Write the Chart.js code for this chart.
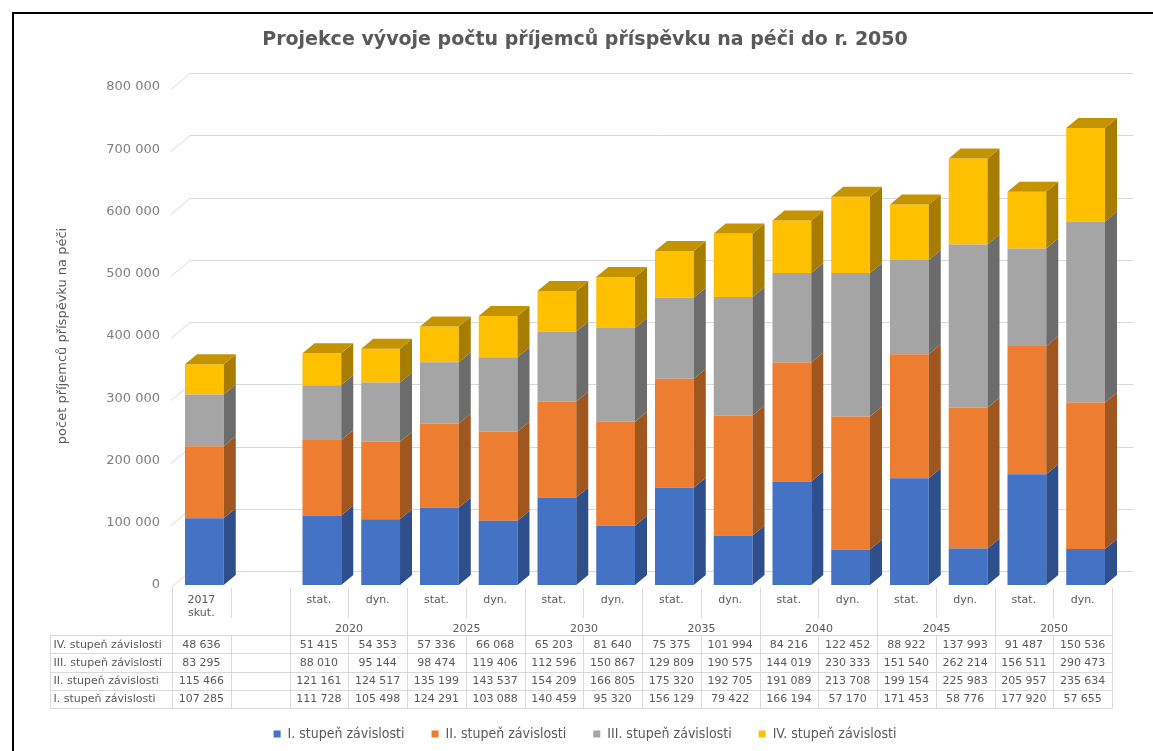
<!DOCTYPE html>
<html>
<head>
<meta charset="utf-8">
<script src="https://cdn.jsdelivr.net/npm/chart.js@4.4.1/dist/chart.umd.min.js"></script>
<style>
  body { margin: 0; background: #fff; }
</style>
</head>
<body>
<canvas id="care" width="1153" height="751"></canvas>
<script>
// categories on the x axis (blank slot after 2017)
var xLabels = [["2017", "skut."], "", "stat.", "dyn.", "stat.", "dyn.", "stat.", "dyn.", "stat.", "dyn.",
               "stat.", "dyn.", "stat.", "dyn.", "stat.", "dyn."];
var years = ["2020", "2025", "2030", "2035", "2040", "2045", "2050"];

var seriesNames = ["I. stupeň závislosti", "II. stupeň závislosti", "III. stupeň závislosti", "IV. stupeň závislosti"];

var st1 = [107285, null, 111728, 105498, 124291, 103088, 140459, 95320, 156129, 79422, 166194, 57170, 171453, 58776, 177920, 57655];
var st2 = [115466, null, 121161, 124517, 135199, 143537, 154209, 166805, 175320, 192705, 191089, 213708, 199154, 225983, 205957, 235634];
var st3 = [83295, null, 88010, 95144, 98474, 119406, 112596, 150867, 129809, 190575, 144019, 230333, 151540, 262214, 156511, 290473];
var st4 = [48636, null, 51415, 54353, 57336, 66068, 65203, 81640, 75375, 101994, 84216, 122452, 88922, 137993, 91487, 150536];

var frontColors = ["#4472C4", "#ED7D31", "#A5A5A5", "#FFC000"];
var sideColors = ["#2E4F8C", "#A0561F", "#6C6C6C", "#A67D00"];
var topColors = ["#3A62A8", "#C86A28", "#8A8A8A", "#C39300"];

var fontFam = "'DejaVu Sans', Verdana, sans-serif";
var gridColor = "#d9d9d9";
var textColor = "#595959";

function fmt(v) {
    if (v == null) return "";
    return String(v).replace(/\B(?=(\d{3})+(?!\d))/g, " ");
}

function poly(ctx, pts) {
    ctx.beginPath();
    ctx.moveTo(pts[0][0], pts[0][1]);
    for (var i = 1; i < pts.length; i++) ctx.lineTo(pts[i][0], pts[i][1]);
    ctx.closePath();
    ctx.fill();
}

function line(ctx, x1, y1, x2, y2) {
    ctx.beginPath();
    ctx.moveTo(x1, y1);
    ctx.lineTo(x2, y2);
    ctx.stroke();
}

var depth = { dx: 12, dy: -10 };
var wall = { dx: 19, dy: -16 };

var fake3d = {
    id: "fake3d",
    beforeDatasetsDraw: function (chart) {
        var ctx = chart.ctx, a = chart.chartArea, ys = chart.scales.y;
        ctx.save();
        ctx.strokeStyle = gridColor;
        ctx.lineWidth = 1;
        ys.ticks.forEach(function (t) {
            var y = Math.round(ys.getPixelForValue(t.value)) + 0.5;
            ctx.beginPath();
            ctx.moveTo(a.left - 4, y + 2);
            ctx.lineTo(a.left - 4 + wall.dx, y + 2 + wall.dy);
            ctx.lineTo(a.right + wall.dx - 1, y + 2 + wall.dy);
            ctx.stroke();
        });
        ctx.restore();
    },
    afterDatasetsDraw: function (chart) {
        var ctx = chart.ctx;
        var last = chart.data.datasets.length - 1;
        ctx.save();
        chart.data.datasets.forEach(function (ds, di) {
            var meta = chart.getDatasetMeta(di);
            meta.data.forEach(function (bar, i) {
                if (ds.data[i] == null) return;
                var p = bar.getProps(["x", "y", "base", "width"], true);
                var l = p.x - p.width / 2, r = p.x + p.width / 2;
                var t = Math.min(p.y, p.base), b = Math.max(p.y, p.base);
                ctx.fillStyle = sideColors[di];
                poly(ctx, [[r, t], [r + depth.dx, t + depth.dy], [r + depth.dx, b + depth.dy], [r, b]]);
                if (di === last) {
                    ctx.fillStyle = topColors[di];
                    poly(ctx, [[l, t], [l + depth.dx, t + depth.dy], [r + depth.dx, t + depth.dy], [r, t]]);
                }
            });
        });
        ctx.restore();
    },
    afterDraw: function (chart) {
        var ctx = chart.ctx, a = chart.chartArea, xs = chart.scales.x;
        var n = xLabels.length;
        var cw = (xs.right - xs.left) / n;
        var off = -3;
        var bx = function (i) { return Math.round(xs.left + i * cw + off) + 0.5; };
        var cx = function (i) { return xs.getPixelForValue(i) + off; };
        var tableTop = a.bottom + 50, rowH = 18.3, tableLeft = 50.5;
        var tableBottom = tableTop + rowH * 4;

        ctx.save();
        ctx.strokeStyle = gridColor;
        ctx.lineWidth = 1;
        // tick marks in the label band
        for (var i = 0; i <= n; i++) {
            var long = (i % 2 === 0);
            line(ctx, bx(i), a.bottom + 3, bx(i), long ? tableBottom : a.bottom + 33);
            if (!long) line(ctx, bx(i), tableTop, bx(i), tableBottom);
        }
        // table grid
        line(ctx, tableLeft, tableTop, tableLeft, tableBottom);
        for (var r = 0; r <= 4; r++) {
            var yy = Math.round(tableTop + r * rowH) + 0.5;
            line(ctx, tableLeft, yy, bx(n), yy);
        }

        ctx.fillStyle = textColor;
        ctx.font = "11px " + fontFam;
        ctx.textAlign = "center";
        ctx.textBaseline = "middle";
        // category labels
        xLabels.forEach(function (lab, i) {
            if (Array.isArray(lab)) {
                lab.forEach(function (s, k) { ctx.fillText(s, cx(i), a.bottom + 15 + k * 13); });
            } else if (lab) {
                ctx.fillText(lab, cx(i), a.bottom + 15);
            }
        });
        // year group labels
        years.forEach(function (yr, k) {
            var i0 = 2 + k * 2;
            ctx.fillText(yr, (bx(i0) + bx(i0 + 2)) / 2, a.bottom + 44);
        });
        // data rows, top row is the last series
        var rows = [st4, st3, st2, st1];
        var names = seriesNames.slice().reverse();
        rows.forEach(function (vals, r) {
            var ym = tableTop + r * rowH + rowH / 2 + 0.5;
            ctx.textAlign = "left";
            ctx.fillText(names[r], tableLeft + 3, ym);
            ctx.textAlign = "center";
            vals.forEach(function (v, i) { ctx.fillText(fmt(v), cx(i), ym); });
        });

        // frame
        ctx.fillStyle = "#000";
        ctx.fillRect(12, 12, 2, chart.height);
        ctx.fillRect(12, 12, chart.width, 2);
        ctx.restore();
    }
};

var datasets = [st1, st2, st3, st4].map(function (vals, k) {
    return {
        label: seriesNames[k],
        data: vals,
        backgroundColor: frontColors[k],
        borderWidth: 0,
        barPercentage: 0.66,
        categoryPercentage: 1.0
    };
});

new Chart(document.getElementById("care").getContext("2d"), {
    type: "bar",
    data: { labels: xLabels, datasets: datasets },
    options: {
        responsive: false,
        animation: false,
        layout: { padding: { left: 55, right: 38, top: 0, bottom: 0 } },
        scales: {
            x: {
                stacked: true,
                grid: { display: false, drawTicks: false },
                border: { display: false },
                ticks: { display: false },
                afterFit: function (s) { s.height = 115; }
            },
            y: {
                stacked: true,
                min: 0,
                max: 800000,
                grid: { display: false, drawTicks: false },
                border: { display: false },
                ticks: {
                    stepSize: 100000,
                    padding: 15,
                    color: "#7f7f7f",
                    font: { family: fontFam, size: 13 },
                    callback: function (v) { return fmt(v); }
                },
                title: {
                    display: true,
                    text: "počet příjemců příspěvku na péči",
                    color: textColor,
                    padding: 0,
                    font: { family: fontFam, size: 13 }
                },
                afterFit: function (s) { s.width = 120; }
            }
        },
        plugins: {
            title: {
                display: true,
                text: "Projekce vývoje počtu příjemců příspěvku na péči do r. 2050",
                color: textColor,
                font: { family: fontFam, size: 19, weight: "bold" },
                padding: { top: 28.6, bottom: 35.6 }
            },
            legend: {
                position: "bottom",
                labels: {
                    boxWidth: 7,
                    boxHeight: 7,
                    padding: 27,
                    color: textColor,
                    font: { family: "'DejaVu Sans Condensed', 'DejaVu Sans', sans-serif", size: 14 }
                }
            },
            tooltip: { enabled: false }
        }
    },
    plugins: [fake3d]
});
</script>
</body>
</html>
